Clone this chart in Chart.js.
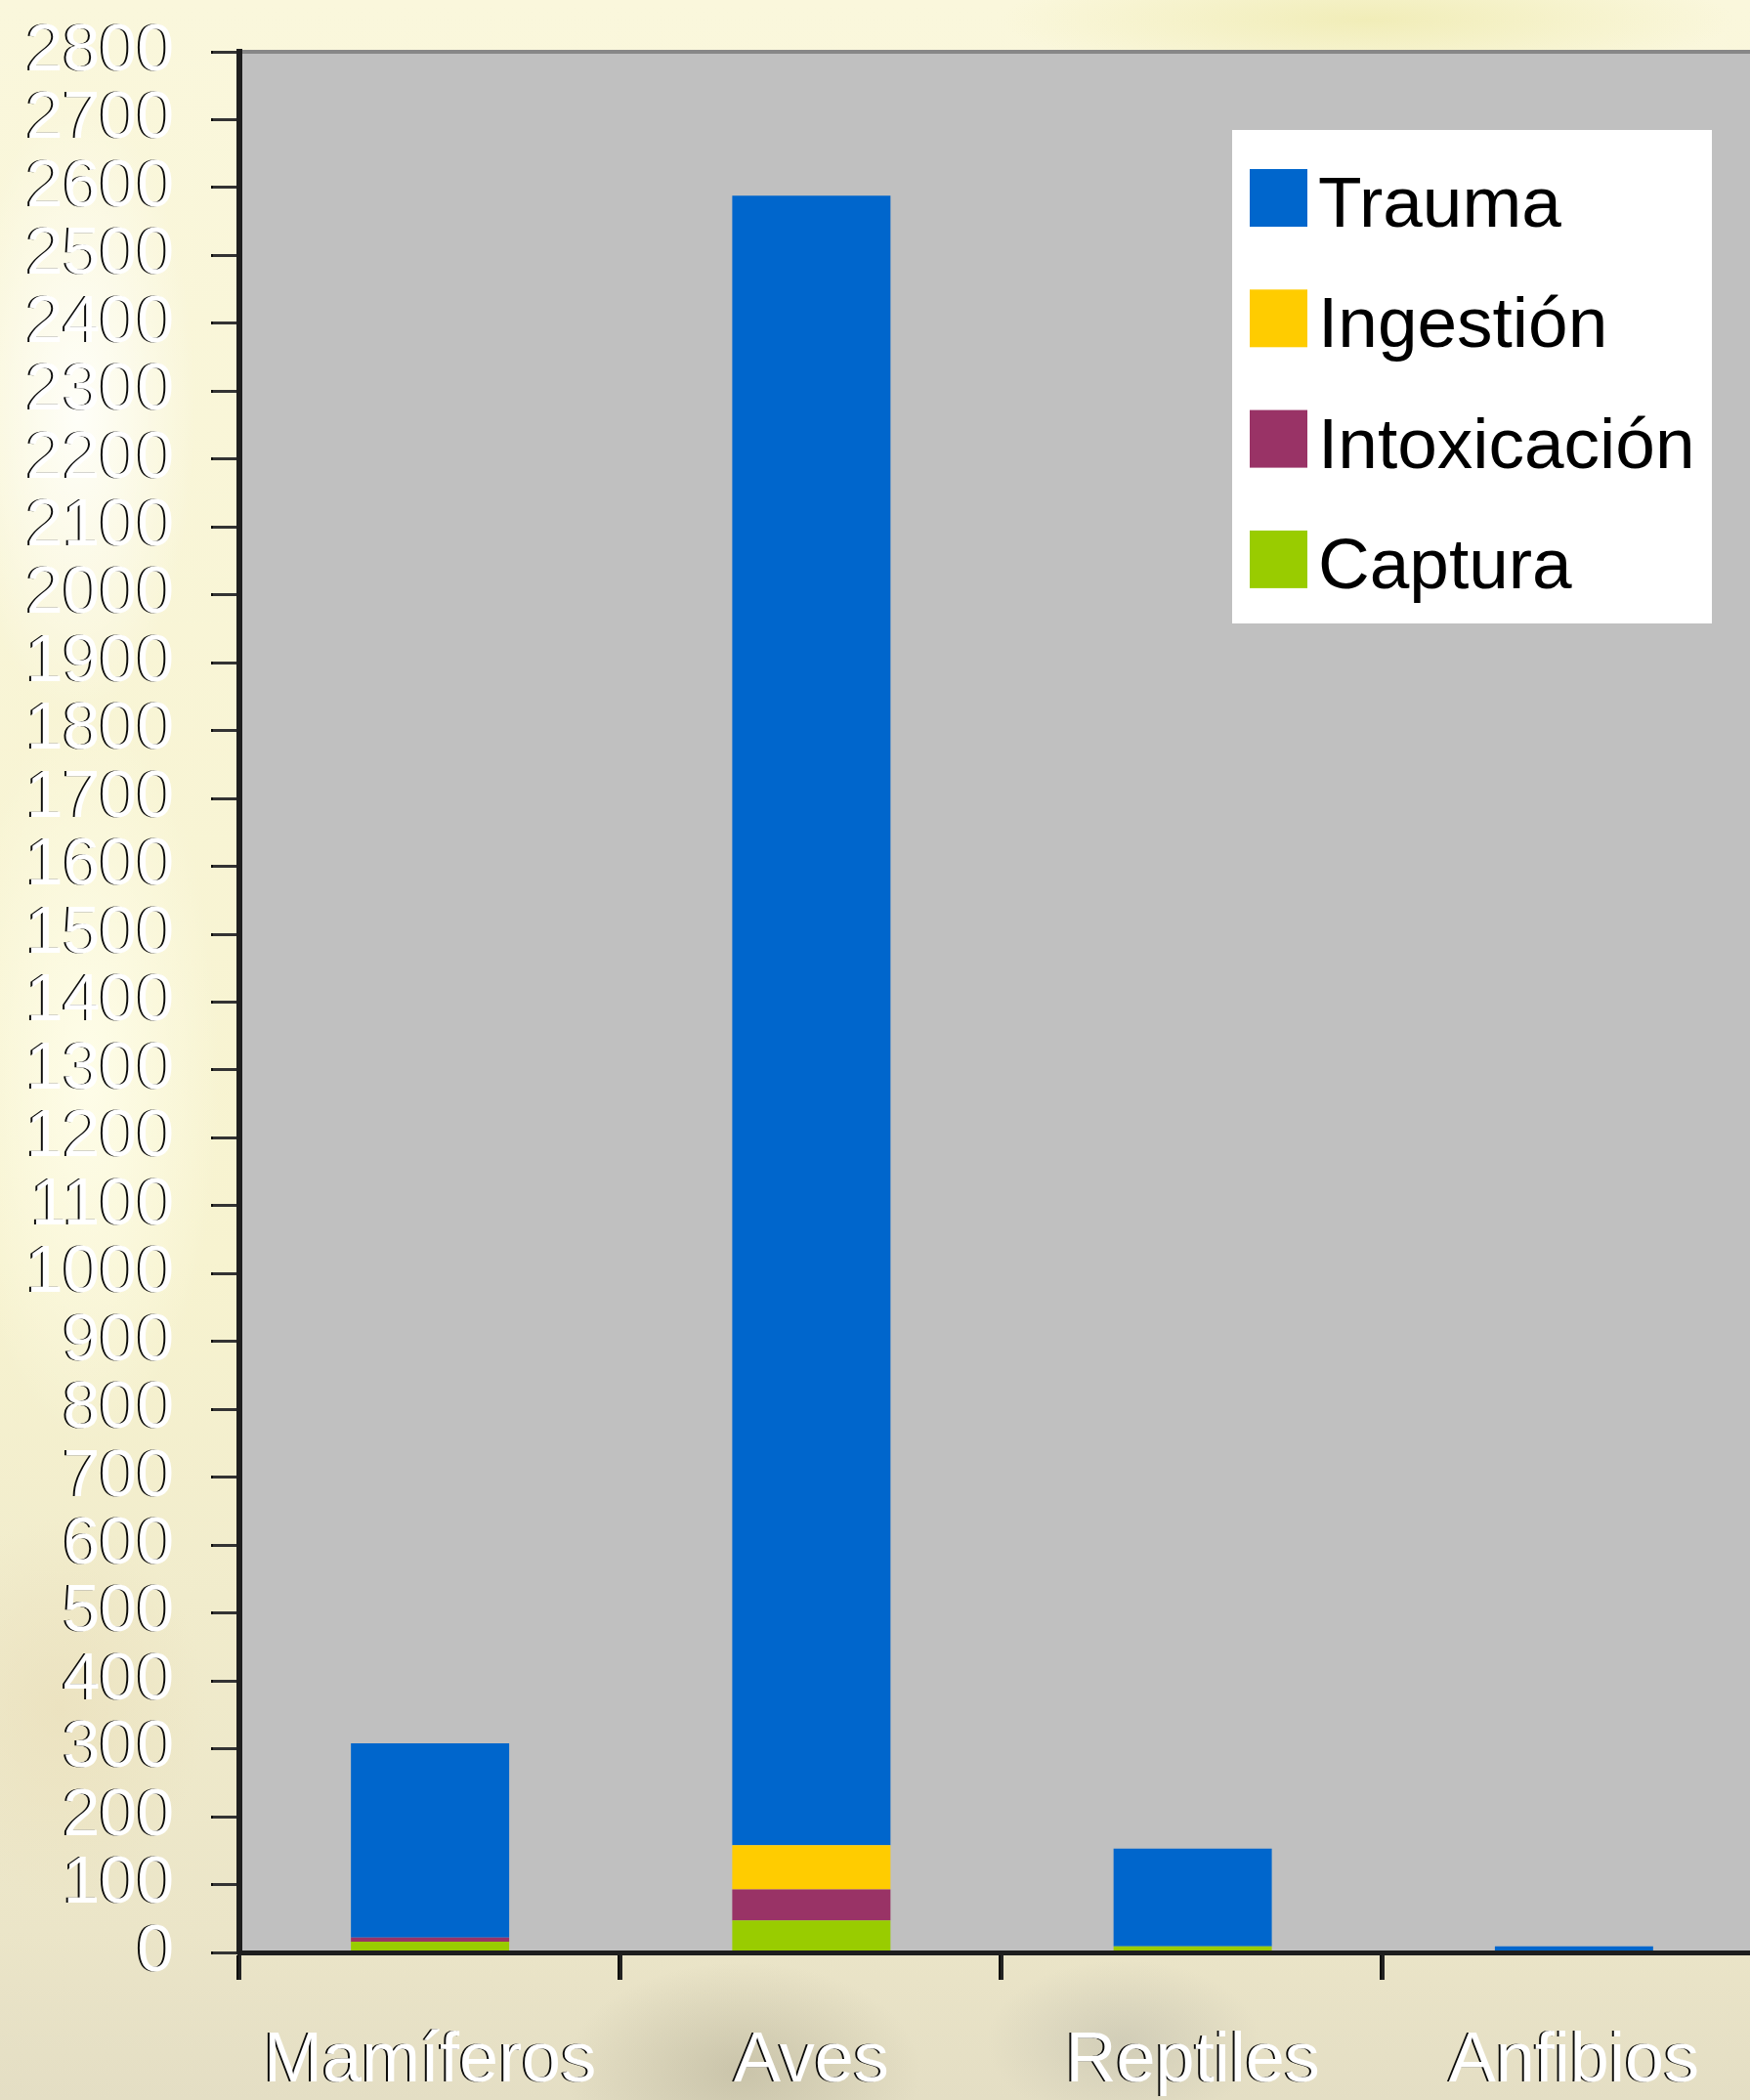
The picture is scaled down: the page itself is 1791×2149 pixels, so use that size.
<!DOCTYPE html>
<html lang="es">
<head>
<meta charset="utf-8">
<title>Ingresos por causa</title>
<script src="https://cdn.jsdelivr.net/npm/chart.js@4.4.1/dist/chart.umd.min.js"></script>
<style>
    html, body {
        margin: 0;
        padding: 0;
        width: 1791px;
        height: 2149px;
        overflow: hidden;
    }
    body {
        background:
            radial-gradient(ellipse 260px 160px at 760px 2120px, rgba(150, 145, 120, 0.35), rgba(150, 145, 120, 0) 70%),
            radial-gradient(ellipse 200px 120px at 1150px 2090px, rgba(160, 160, 150, 0.3), rgba(160, 160, 150, 0) 70%),
            radial-gradient(ellipse 160px 420px at 80px 420px, rgba(255, 255, 250, 0.95), rgba(255, 255, 250, 0) 75%),
            radial-gradient(ellipse 180px 500px at 90px 1100px, rgba(255, 254, 235, 0.9), rgba(255, 254, 235, 0) 75%),
            radial-gradient(ellipse 200px 260px at 60px 1750px, rgba(235, 225, 190, 0.8), rgba(235, 225, 190, 0) 75%),
            radial-gradient(ellipse 500px 80px at 1400px 20px, rgba(240, 236, 180, 0.9), rgba(240, 236, 180, 0) 75%),
            linear-gradient(180deg, #faf7dc 0%, #f7f3d0 60%, #ebe5c8 92%, #e4dec4 100%);
    }
    canvas {
        display: block;
    }
</style>
</head>
<body>
<canvas id="causas" width="1810" height="2149"></canvas>
<script>
//--------------------------------------------Data
const categories = ['Mamíferos', 'Aves', 'Reptiles', 'Anfibios'];
const captura = [16, 47, 9, 0];
const intoxicacion = [6, 46, 0, 0];
const ingestion = [0, 65, 0, 0];
const trauma = [286, 2430, 144, 9];
const yMax = 2800;
const yStep = 100;

//--------------------------------------------Plugins
const FONT = '"Liberation Sans", Arial, sans-serif';

// gray plot area + dark shadow behind the white tick labels
const plotBackground = {
    id: 'plotBackground',
    beforeDraw(chart) {
        const { ctx, chartArea: a } = chart;
        ctx.save();
        ctx.fillStyle = '#c0c0c0';
        ctx.fillRect(a.left, a.top, a.right - a.left, a.bottom - a.top);
        ctx.strokeStyle = '#878787';
        ctx.lineWidth = 4;
        ctx.beginPath();
        ctx.moveTo(a.left, a.top);
        ctx.lineTo(a.right, a.top);
        ctx.stroke();
        ctx.restore();

        ctx.shadowColor = 'rgba(0, 0, 0, 0.95)';
        ctx.shadowOffsetX = -2;
        ctx.shadowOffsetY = 0;
        ctx.shadowBlur = 0;
    },
    beforeDatasetsDraw(chart) {
        const ctx = chart.ctx;
        ctx.shadowColor = 'rgba(0, 0, 0, 0)';
        ctx.shadowOffsetX = 0;
        ctx.shadowOffsetY = 0;
    }
};

// white legend box in the top right corner of the plot
const boxLegend = {
    id: 'boxLegend',
    afterDraw(chart) {
        const ctx = chart.ctx;
        const items = chart.data.datasets.slice().reverse();
        ctx.save();
        ctx.fillStyle = '#ffffff';
        ctx.fillRect(1261, 133, 491, 505);
        ctx.font = '73px ' + FONT;
        ctx.textBaseline = 'alphabetic';
        items.forEach((ds, i) => {
            const base = 232 + i * 123.3;
            ctx.fillStyle = ds.backgroundColor;
            ctx.fillRect(1279, base - 59, 59, 59);
            ctx.fillStyle = '#000000';
            ctx.fillText(ds.label, 1349, base);
        });
        ctx.restore();
    }
};

//--------------------------------------------Chart
const data = {
    labels: categories,
    datasets: [
        { label: 'Captura', data: captura, backgroundColor: '#99cc00' },
        { label: 'Intoxicación', data: intoxicacion, backgroundColor: '#993366' },
        { label: 'Ingestión', data: ingestion, backgroundColor: '#ffcc00' },
        { label: 'Trauma', data: trauma, backgroundColor: '#0066cc' }
    ]
};

const config = {
    type: 'bar',
    data: data,
    options: {
        responsive: false,
        animation: false,
        devicePixelRatio: 1,
        layout: {
            padding: { top: 53, right: 4, bottom: 0, left: 0 }
        },
        datasets: {
            bar: {
                categoryPercentage: 1,
                barPercentage: 0.415,
                borderWidth: 0
            }
        },
        plugins: {
            legend: { display: false },
            title: { display: false },
            tooltip: { enabled: false }
        },
        scales: {
            x: {
                stacked: true,
                grid: {
                    offset: true,
                    drawOnChartArea: false,
                    tickLength: 28,
                    color: '#222222',
                    lineWidth: 3
                },
                border: { color: '#1e1e1e', width: 5, z: 1 },
                ticks: {
                    color: '#ffffff',
                    font: { family: FONT, size: 72 },
                    padding: 41,
                    maxRotation: 0,
                    autoSkip: false
                },
                afterFit(scale) {
                    scale.height = 151;
                    scale.paddingLeft = 0;
                    scale.paddingRight = 0;
                }
            },
            y: {
                stacked: true,
                min: 0,
                max: yMax,
                grid: {
                    drawOnChartArea: false,
                    tickLength: 27,
                    color: '#333333',
                    lineWidth: 3
                },
                border: { color: '#1e1e1e', width: 6, z: 1 },
                ticks: {
                    stepSize: yStep,
                    autoSkip: false,
                    color: '#ffffff',
                    font: { family: FONT, size: 68, lineHeight: 1 },
                    padding: 40,
                    callback: (v) => String(v)
                },
                afterFit(scale) {
                    scale.width = 245;
                    scale.paddingTop = 0;
                    scale.paddingBottom = 0;
                }
            }
        }
    },
    plugins: [plotBackground, boxLegend]
};

new Chart(document.getElementById('causas'), config);
</script>
</body>
</html>
